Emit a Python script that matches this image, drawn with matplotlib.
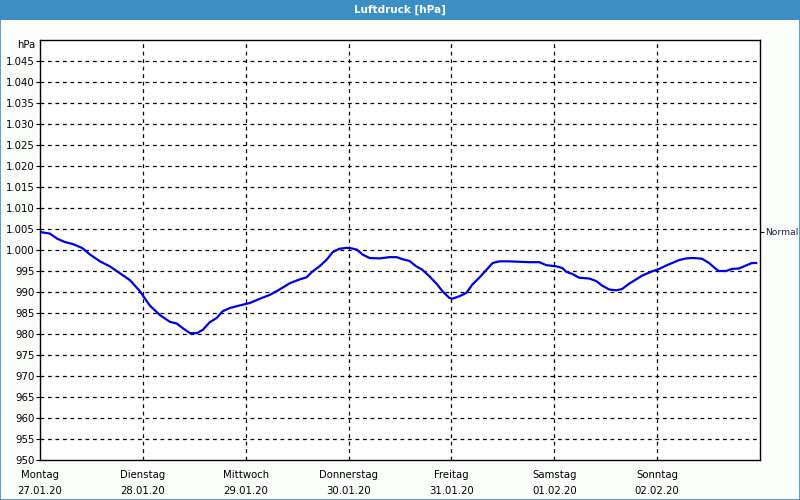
import matplotlib
matplotlib.use("Agg")
import matplotlib.pyplot as plt
from matplotlib.patches import Rectangle
import numpy as np

# ---- data ----
hours = [0, 2.3, 4.0, 5.8, 7.7, 9.8, 11.7, 14.0, 16.3, 18.6, 21.0, 23.3, 25.6, 28.0,
         30.3, 31.9, 33.3, 35.0, 36.6, 38.0, 39.6, 41.2, 42.6, 44.3, 46.6, 49.0, 51.3,
         53.6, 55.9, 58.3, 60.6, 62.2, 63.6, 65.2, 66.9, 68.3, 69.9, 71.5, 72.2, 73.9,
         75.3, 76.9, 79.2, 81.6, 83.2, 84.6, 86.2, 87.8, 89.2, 90.9, 92.5, 93.9, 95.5,
         96.2, 97.9, 99.5, 100.9, 102.5, 104.2, 105.6, 107.2, 109.5, 111.8, 114.2, 116.5,
         118.1, 120.5, 121.9, 122.8, 124.2, 125.8, 128.2, 129.8, 131.2, 132.8, 134.4,
         135.8, 137.5, 139.1, 140.5, 142.1, 142.8, 144.5, 146.1, 147.5, 149.1, 150.8,
         152.2, 153.8, 154.5, 156.1, 157.7, 158.4, 160.1, 161.5, 163.1, 164.7, 166.1, 167.1]
pressure = [1004.3, 1003.9, 1002.7, 1001.9, 1001.4, 1000.5, 998.9, 997.3, 996.1, 994.5,
            992.8, 990.2, 986.8, 984.5, 982.9, 982.5, 981.4, 980.2, 980.2, 981.0, 982.8,
            983.8, 985.4, 986.2, 986.8, 987.4, 988.4, 989.3, 990.6, 992.1, 993.0, 993.5,
            994.9, 996.1, 997.7, 999.5, 1000.3, 1000.5, 1000.5, 1000.1, 998.9, 998.1,
            998.0, 998.3, 998.3, 997.8, 997.4, 996.1, 995.3, 993.7, 992.0, 990.2, 988.6,
            988.4, 989.0, 989.8, 991.8, 993.4, 995.3, 996.9, 997.3, 997.3, 997.2, 997.1,
            997.1, 996.4, 996.1, 995.7, 994.8, 994.3, 993.4, 993.2, 992.6, 991.5, 990.6,
            990.4, 990.7, 992.0, 993.0, 993.9, 994.6, 994.9, 995.5, 996.3, 996.9, 997.6,
            998.0, 998.1, 998.0, 997.9, 996.9, 995.5, 995.0, 995.0, 995.5, 995.6, 996.3,
            996.9, 996.9]
day_names = ["Montag", "Dienstag", "Mittwoch", "Donnerstag", "Freitag", "Samstag", "Sonntag"]
day_dates = ["27.01.20", "28.01.20", "29.01.20", "30.01.20", "31.01.20", "01.02.20", "02.02.20"]
y_ticks = list(range(950, 1050, 5))
normal_value = 1004.4
title = "Luftdruck [hPa]"

# ---- figure ----
plt.rcParams['font.family'] = ['DejaVu Sans']
bg = '#fbfefb'
fs = 7
fig = plt.figure(figsize=(8, 5), dpi=100, facecolor=bg)

# title bar
fig.patches.append(Rectangle((0, 1 - 20 / 500), 1, 20 / 500, transform=fig.transFigure,
                             facecolor='#3b8fc4', edgecolor='none', zorder=0))
fig.text(0.5, 1 - 10 / 500, title, color='white', fontsize=7.5, fontweight='bold',
         ha='center', va='center')
# outer border
fig.patches.append(Rectangle((0.0006, 0.001), 0.9988, 0.998, transform=fig.transFigure,
                             facecolor='none', edgecolor='#3b8fc4', linewidth=1.2, zorder=5))

ax = fig.add_axes([40 / 800, 40 / 500, 720 / 800, 420 / 500])
ax.set_facecolor('white')
ax.set_xlim(0, 168)
ax.set_ylim(950, 1050)

ax.plot(hours, pressure, color='#0000e6', linewidth=1.6, zorder=3)

# grid
day_pos = [24 * i for i in range(len(day_names))]
for y in y_ticks[1:]:
    ax.axhline(y, color='black', linestyle=(0, (3, 3)), linewidth=0.9, zorder=1)
for x in day_pos[1:]:
    ax.axvline(x, color='black', linestyle=(0, (3, 3)), linewidth=0.9, zorder=1)

ax.set_yticks(y_ticks)
ax.set_yticklabels([("{:,}".format(v).replace(",", ".") if v >= 1000 else str(v)) for v in y_ticks])
ax.tick_params(axis='y', length=3, width=0.8, labelsize=fs + 0.3, pad=1, colors='black')
ax.set_xticks(day_pos)
ax.set_xticklabels([f"{n}\n{d}" for n, d in zip(day_names, day_dates)], linespacing=1.8)
ax.tick_params(axis='x', length=0, labelsize=fs + 0.3, pad=7)

for s in ax.spines.values():
    s.set_linewidth(1.0)
    s.set_color('black')

ax.text(-0.006, 0.988, "hPa", transform=ax.transAxes, ha='right', va='center', fontsize=fs + 0.3)

ax2 = ax.twinx()
ax2.set_ylim(950, 1050)
ax2.set_yticks([normal_value])
ax2.set_yticklabels(["Normal"], color='#1e1e4a')
ax2.tick_params(axis='y', length=3, width=0.8, labelsize=6.6, pad=0.5)
for s in ax2.spines.values():
    s.set_visible(False)

fig.savefig("out.png", dpi=100, facecolor=bg)
